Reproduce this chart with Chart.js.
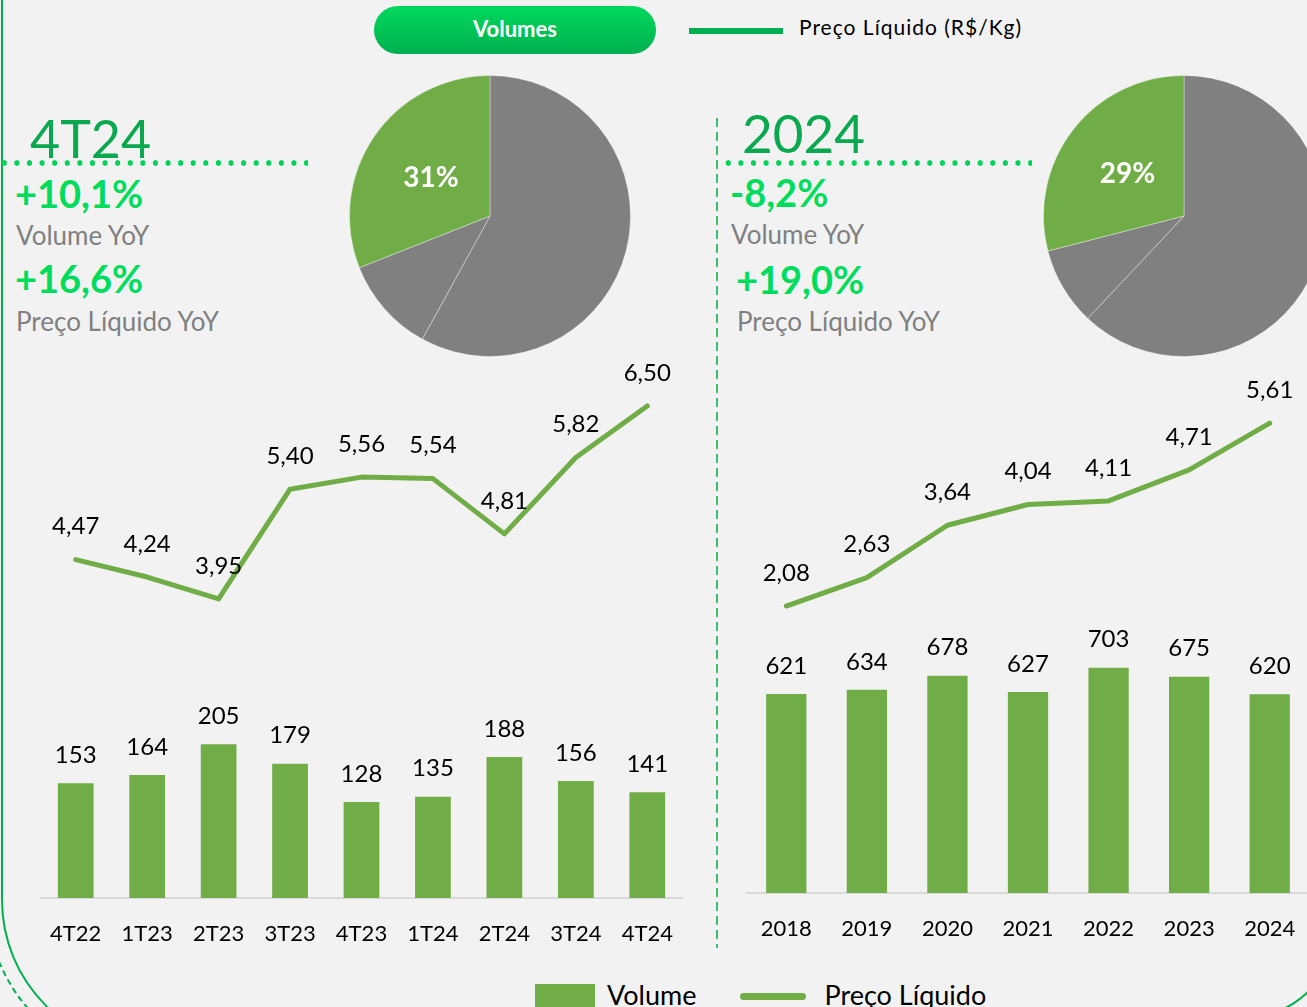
<!DOCTYPE html>
<html lang="pt-BR">

<head>
  <meta charset="UTF-8" />
  <title>Volumes e Preço Líquido</title>
  <script src="https://cdn.jsdelivr.net/npm/chart.js@4"></script>
  <style>
    html, body { margin: 0; padding: 0; }
    body {
      width: 1307px; height: 1007px; overflow: hidden; position: relative;
      background: #f2f2f2; font-family: Lato, "Open Sans", sans-serif;
    }
    .abs { position: absolute; line-height: 1; white-space: nowrap; }
    .title { color: #0aa84f; font-size: 52px; }
    .pct { color: #00dc5c; font-size: 38px; font-weight: bold; }
    .sub { color: #808080; font-size: 26px; }
    .dots {
      position: absolute; height: 6px;
      background: radial-gradient(circle, #00d25a 2.5px, transparent 2.9px);
      background-size: 12.6px 6px;
    }
  </style>
</head>

<body>
  <!-- frame -->
  <div class="abs" style="left:1px;top:-10px;width:1400px;height:1060px;box-sizing:border-box;border-left:2.5px solid #00b050;border-bottom:2.5px solid #00b050;border-bottom-left-radius:150px;"></div>
  <div class="abs" style="left:-14px;top:0;width:600px;height:1065px;box-sizing:border-box;border-left:2px dashed #00b050;border-bottom:2px dashed #00b050;border-bottom-left-radius:165px;"></div>
  <div class="abs" style="left:1200px;top:800px;width:140px;height:220px;box-sizing:border-box;border-right:2.5px solid #00b050;border-bottom:2.5px solid #00b050;border-bottom-right-radius:100px;"></div>

  <!-- header -->
  <div class="abs" style="left:374px;top:6px;width:282px;height:48px;border-radius:24px;background:linear-gradient(#00d95b,#00b050);color:#fff;font-weight:bold;font-size:22px;text-align:center;line-height:46px;">Volumes</div>
  <div class="abs" style="left:689px;top:28px;width:94px;height:6px;background:#00b050;"></div>
  <div class="abs" style="left:799px;top:16px;font-size:21px;letter-spacing:1px;color:#000;">Preço Líquido (R$/Kg)</div>

  <!-- left block -->
  <div class="abs title" style="left:30px;top:112px;">4T24</div>
  <div class="dots" style="left:-2px;top:160px;width:310px;"></div>
  <div class="abs pct" style="left:15px;top:174px;">+10,1%</div>
  <div class="abs sub" style="left:16px;top:222px;">Volume YoY</div>
  <div class="abs pct" style="left:15px;top:259px;">+16,6%</div>
  <div class="abs sub" style="left:16px;top:308px;">Preço Líquido YoY</div>

  <!-- divider -->
  <div class="abs" style="left:716px;top:118px;width:2px;height:830px;background:repeating-linear-gradient(#3cbf6e 0 9px, transparent 9px 14px);"></div>

  <!-- right block -->
  <div class="abs title" style="left:742px;top:106px;font-size:53px;">2024</div>
  <div class="dots" style="left:722px;top:160px;width:310px;"></div>
  <div class="abs pct" style="left:730px;top:173px;">-8,2%</div>
  <div class="abs sub" style="left:731px;top:221px;">Volume YoY</div>
  <div class="abs pct" style="left:736px;top:260px;">+19,0%</div>
  <div class="abs sub" style="left:737px;top:308px;">Preço Líquido YoY</div>

  <!-- charts -->
  <div class="abs" style="left:349px;top:75px;width:282px;height:282px;"><canvas id="pieQuarter"></canvas></div>
  <div class="abs" style="left:1043px;top:75px;width:282px;height:282px;"><canvas id="pieYear"></canvas></div>
  <div class="abs" style="left:40px;top:340px;width:643px;height:620px;"><canvas id="comboQuarter"></canvas></div>
  <div class="abs" style="left:746px;top:340px;width:564px;height:620px;"><canvas id="comboYear"></canvas></div>

  <div id="customLegend" class="abs" style="left:535px;top:984px;display:flex;align-items:flex-start;"></div>

  <script>
    // quarterly
    const quarters = ["4T22", "1T23", "2T23", "3T23", "4T23", "1T24", "2T24", "3T24", "4T24"];
    const quarterVolume = [153, 164, 205, 179, 128, 135, 188, 156, 141];
    const quarterPrice = [4.47, 4.24, 3.95, 5.40, 5.56, 5.54, 4.81, 5.82, 6.50];

    // yearly
    const years = ["2018", "2019", "2020", "2021", "2022", "2023", "2024"];
    const yearVolume = [621, 634, 678, 627, 703, 675, 620];
    const yearPrice = [2.08, 2.63, 3.64, 4.04, 4.11, 4.71, 5.61];

    // pie shares (%), last slice is the highlighted one
    const pieLabels = ["Outros", "Outros", "Participação"];
    const quarterShare = [58, 11, 31];
    const yearShare = [62, 9, 29];

    const GREEN = "#70AD47";
    const GRAY = "#808080";

    Chart.defaults.font.family = "Lato, 'Open Sans', sans-serif";
    Chart.defaults.animation = false;

    const valueLabels = {
      id: "valueLabels",
      afterDatasetsDraw(chart) {
        const ctx = chart.ctx;
        ctx.save();
        ctx.font = "24px Lato";
        ctx.fillStyle = "#000";
        ctx.textAlign = "center";
        ctx.textBaseline = "middle";
        chart.data.datasets.forEach((ds, i) => {
          const isLine = ds.type === "line";
          chart.getDatasetMeta(i).data.forEach((el, j) => {
            const v = ds.data[j];
            const txt = isLine ? v.toFixed(2).replace(".", ",") : String(v);
            ctx.fillText(txt, el.x, el.y - (isLine ? 33 : 28));
          });
        });
        ctx.restore();
      },
    };

    const pieLabel = {
      id: "pieLabel",
      afterDatasetsDraw(chart) {
        const ctx = chart.ctx;
        const ds = chart.data.datasets[0];
        const last = ds.data.length - 1;
        const pos = chart.getDatasetMeta(0).data[last].tooltipPosition();
        ctx.save();
        ctx.font = "bold 28px Lato";
        ctx.fillStyle = "#fff";
        ctx.textAlign = "center";
        ctx.textBaseline = "middle";
        ctx.fillText(ds.data[last] + "%", pos.x - 1, pos.y + 1);
        ctx.restore();
      },
    };

    function makePie(id, values) {
      return new Chart(document.getElementById(id), {
        type: "pie",
        data: {
          labels: pieLabels,
          datasets: [{
            data: values,
            backgroundColor: [GRAY, GRAY, GREEN],
            borderColor: "rgba(255,255,255,0.35)",
            borderWidth: 1,
            hoverOffset: 0,
          }],
        },
        options: {
          responsive: true,
          maintainAspectRatio: false,
          plugins: { legend: { display: false }, tooltip: { enabled: false } },
        },
        plugins: [pieLabel],
      });
    }

    function makeCombo(id, labels, volume, price, volMax, priceMin, priceMax, axisHeight) {
      return new Chart(document.getElementById(id), {
        data: {
          labels: labels,
          datasets: [
            {
              type: "line",
              label: "Preço Líquido",
              data: price,
              yAxisID: "y1",
              borderColor: GREEN,
              backgroundColor: GREEN,
              borderWidth: 5,
              pointRadius: 0,
              tension: 0,
              borderCapStyle: "round",
              borderJoinStyle: "round",
              order: 0,
            },
            {
              type: "bar",
              label: "Volume",
              data: volume,
              yAxisID: "y",
              backgroundColor: GREEN,
              barPercentage: 0.5,
              categoryPercentage: 1,
              order: 1,
            },
          ],
        },
        options: {
          responsive: true,
          maintainAspectRatio: false,
          layout: { padding: { top: 20, left: 0, right: 0, bottom: 0 } },
          plugins: { legend: { display: false }, tooltip: { enabled: false } },
          scales: {
            x: {
              grid: { display: false, drawTicks: false },
              border: { display: true, color: "#d9d9d9", width: 2 },
              ticks: { color: "#000", font: { size: 22 }, padding: 23, maxRotation: 0, autoSkip: false },
              afterFit: (s) => {
                s.height = axisHeight;
                s.paddingLeft = 0;
                s.paddingRight = 0;
              },
            },
            y: { display: false, min: 0, max: volMax },
            y1: { display: false, min: priceMin, max: priceMax },
          },
        },
        plugins: [valueLabels],
      });
    }

    makePie("pieQuarter", quarterShare);
    makePie("pieYear", yearShare);
    const quarterChart = makeCombo("comboQuarter", quarters, quarterVolume, quarterPrice, 717.3, 0, 7.107, 62);
    makeCombo("comboYear", years, yearVolume, yearPrice, 1663, -3.46, 6.83, 67);

    // shared legend under both charts
    const legend = document.getElementById("customLegend");
    legend.innerHTML = "";
    quarterChart.data.datasets.slice().reverse().forEach((ds) => {
      const item = document.createElement("div");
      item.style.cssText = "display:flex;align-items:flex-start;margin-right:44px;font-size:27px;color:#000;line-height:1;";
      const mark = ds.type === "bar"
        ? `<span style="display:inline-block;width:60px;height:26px;background:${ds.backgroundColor};margin-right:12px;"></span>`
        : `<span style="display:inline-block;width:66px;height:7px;border-radius:4px;background:${ds.borderColor};margin:9px 18px 0 0;"></span>`;
      item.innerHTML = mark + `<span style="position:relative;top:-3px">${ds.label}</span>`;
      legend.appendChild(item);
    });
  </script>
</body>

</html>
